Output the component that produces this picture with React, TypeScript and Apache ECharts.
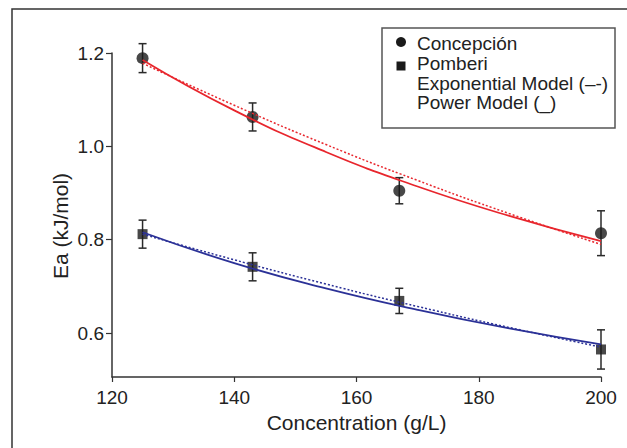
import React, { useEffect, useRef } from "react";
import * as echarts from "echarts";

// Measured points
const xConc = [125, 143, 167, 200];
const concMean = [1.189, 1.063, 0.905, 0.814];
const concErr = [0.031, 0.03, 0.028, 0.048];
const pombMean = [0.812, 0.742, 0.669, 0.565];
const pombErr = [0.03, 0.03, 0.027, 0.042];

// Fitted model curves
const curveX = [125, 140, 155, 170, 185, 200];
const concPower = [1.185, 1.077, 0.988, 0.914, 0.851, 0.797];
const concExp = [1.178, 1.088, 1.004, 0.927, 0.856, 0.79];
const pombPower = [0.816, 0.75, 0.696, 0.65, 0.61, 0.576];
const pombExp = [0.812, 0.757, 0.705, 0.657, 0.612, 0.57];

// Axis ticks
const yTicks = [0.6, 0.8, 1.0, 1.2];
const legendLabels = ["Concepción", "Pomberi", "Exponential Model (–-)", "Power Model (_)"];

const FONT = "'Liberation Sans', Arial, Helvetica, sans-serif";
const TXT = "#222";
const RED = "#e8262d";
const BLUE = "#2b3197";

export default function App() {
  const ref = useRef<HTMLDivElement>(null);
  useEffect(() => {
    if (!ref.current) return;
    const chart = echarts.init(ref.current, null, { renderer: "svg" });
    const pair = (xs: number[], ys: number[]) => xs.map((x, i) => [x, ys[i]]);
    const errData = (m: number[], e: number[]) => xConc.map((x, i) => [x, m[i] - e[i], m[i] + e[i]]);
    const errSeries = (m: number[], e: number[]) => ({
      type: "custom",
      data: errData(m, e),
      encode: { x: 0, y: [1, 2] },
      z: 2,
      renderItem: (params: any, api: any) => {
        const x = api.value(0);
        const hi = api.coord([x, api.value(2)]);
        const lo = api.coord([x, api.value(1)]);
        const c = 4;
        const st = { stroke: "#2a2a2a", lineWidth: 1.5 };
        return {
          type: "group",
          children: [
            { type: "line", shape: { x1: hi[0], y1: hi[1], x2: lo[0], y2: lo[1] }, style: st },
            { type: "line", shape: { x1: hi[0] - c, y1: hi[1], x2: hi[0] + c, y2: hi[1] }, style: st },
            { type: "line", shape: { x1: lo[0] - c, y1: lo[1], x2: lo[0] + c, y2: lo[1] }, style: st },
          ],
        };
      },
    });
    const lineSeries = (ys: number[], color: string, dotted: boolean) => ({
      type: "line",
      data: pair(curveX, ys),
      smooth: true,
      symbol: "none",
      z: 4,
      lineStyle: { color, width: dotted ? 1.5 : 1.8, type: dotted ? [2, 2] : "solid" },
    });
    const lx = 417;
    const ly = [43.5, 63.5, 83, 102.5];
    chart.setOption({
      animation: false,
      grid: { left: 112, right: 26, top: 53, bottom: 71 },
      xAxis: {
        type: "value",
        min: 120,
        max: 200,
        interval: 20,
        name: "Concentration (g/L)",
        nameLocation: "middle",
        nameGap: 33,
        nameTextStyle: { fontSize: 21, color: TXT, fontFamily: FONT },
        axisLine: { show: true, onZero: false, lineStyle: { color: "#333", width: 1.5 } },
        axisTick: { show: true, length: 5, lineStyle: { color: "#333", width: 1.2 } },
        axisLabel: { fontSize: 19, color: TXT, fontFamily: FONT, margin: 11 },
        splitLine: { show: false },
      },
      yAxis: {
        type: "value",
        min: 0.506,
        max: 1.2,
        axisLine: { show: true, onZero: false, lineStyle: { color: "#333", width: 1.5 } },
        axisTick: { show: true, length: 6, customValues: yTicks, lineStyle: { color: "#333", width: 1.2 } },
        axisLabel: {
          fontSize: 19,
          color: TXT,
          fontFamily: FONT,
          margin: 8,
          customValues: yTicks,
          formatter: (v: number) => v.toFixed(1),
        },
        splitLine: { show: false },
      },
      graphic: [
        { type: "rect", shape: { x: 12, y: 9, width: 700, height: 500 }, style: { fill: "none", stroke: "#333", lineWidth: 1.5 }, silent: true },
        {
          type: "text",
          x: 60,
          y: 226,
          rotation: Math.PI / 2,
          style: { text: "Ea (kJ/mol)", fill: TXT, fontSize: 21, fontFamily: FONT, align: "center", verticalAlign: "middle" },
        },
        { type: "rect", shape: { x: 382, y: 28, width: 233, height: 100 }, style: { fill: "#fff", stroke: "#555", lineWidth: 1.5 }, z: 10 },
        { type: "circle", shape: { cx: 401, cy: 42, r: 5 }, style: { fill: "#1a1a1a" }, z: 11 },
        { type: "rect", shape: { x: 396.5, y: 61.5, width: 9, height: 9 }, style: { fill: "#1a1a1a" }, z: 11 },
        ...legendLabels.map((t, i) => ({
          type: "text",
          x: lx,
          y: ly[i],
          z: 11,
          style: { text: t, fill: TXT, fontSize: 19, fontFamily: FONT, verticalAlign: "middle", align: "left" },
        })),
      ],
      series: [
        errSeries(concMean, concErr),
        errSeries(pombMean, pombErr),
        { type: "scatter", data: pair(xConc, concMean), symbol: "circle", symbolSize: 12, itemStyle: { color: "#1a1a1a" }, z: 3 },
        { type: "scatter", data: pair(xConc, pombMean), symbol: "rect", symbolSize: 10, itemStyle: { color: "#1a1a1a" }, z: 3 },
        lineSeries(concExp, RED, true),
        lineSeries(concPower, RED, false),
        lineSeries(pombExp, BLUE, true),
        lineSeries(pombPower, BLUE, false),
      ],
    });
    return () => chart.dispose();
  }, []);
  return (
    <div
      ref={ref}
      style={{ position: "fixed", left: 0, top: 0, width: 627, height: 448, background: "#fff" }}
    />
  );
}
